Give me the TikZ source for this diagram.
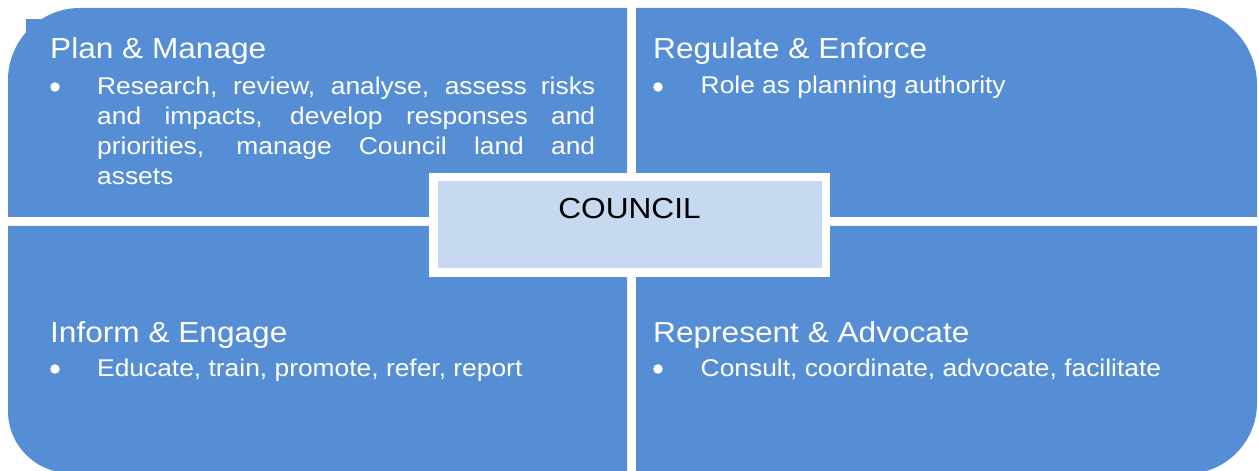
\documentclass[tikz,border=0pt]{standalone}
\usepackage{fontspec}
\setmainfont[FakeStretch=1.09]{Liberation Sans}
\definecolor{quadblue}{HTML}{558ED5}
\definecolor{councilfill}{HTML}{C6D9F1}
\begin{document}
\begin{tikzpicture}[x=1pt,y=1pt,
  quad/.style={fill=quadblue},
  quadtitle/.style={anchor=base west, inner sep=0pt, text=white, font=\fontsize{29}{34}\selectfont},
  bodytext/.style={anchor=base west, inner sep=0pt, text=white, font=\fontsize{24.2}{30}\selectfont},
  bulletdot/.style={circle, fill=white, inner sep=0pt, minimum size=9.5pt},
  councilbox/.style={draw=white, line width=8.5pt, fill=councilfill, minimum width=392.5pt,
    minimum height=95.5pt, inner sep=0pt, text height=20pt, text depth=32pt,
    font=\fontsize{29}{34}\selectfont}]
\clip (0,0) rectangle (1259,471);
% quadrants
\fill[quad] (627,254) -- (8,254) -- (8,391) arc[start angle=180,end angle=90,radius=72pt] -- (627,463) -- cycle;
\fill[quad] (26,411) rectangle (60,452);
\fill[quad] (636,254) -- (636,463) -- (1180,463) arc[start angle=90,end angle=0,radius=77pt] -- (1257,254) -- cycle;
\fill[quad] (627,245) -- (8,245) -- (8,60) arc[start angle=180,end angle=270,radius=62pt] -- (627,-2) -- cycle;
\fill[quad] (636,245) -- (636,-3) -- (1186,-3) arc[start angle=270,end angle=360,radius=71pt] -- (1257,245) -- cycle;
% Plan & Manage
\node[quadtitle] (t1) at (50,412) {Plan \& Manage};
\node[bulletdot] (b1) at (55,384) {};
\node[bodytext, text width=498pt, align=justify] (x1) at (97,376)
  {Research, review, analyse, assess risks\linebreak and impacts, develop responses and\linebreak priorities, manage Council land and\linebreak assets};
% Regulate & Enforce
\node[quadtitle] (t2) at (653,412) {Regulate \& Enforce};
\node[bulletdot] (b2) at (658,384) {};
\node[bodytext] (x2) at (700.5,377) {Role as planning authority};
% Inform & Engage
\node[quadtitle] (t3) at (50,128) {Inform \& Engage};
\node[bulletdot] (b3) at (55,102) {};
\node[bodytext] (x3) at (97,94) {Educate, train, promote, refer, report};
% Represent & Advocate
\node[quadtitle] (t4) at (653,128) {Represent \& Advocate};
\node[bulletdot] (b4) at (658,102) {};
\node[bodytext] (x4) at (700.5,94) {Consult, coordinate, advocate, facilitate};
% centre
\node[councilbox] (council) at (629.5,246) {COUNCIL};
\end{tikzpicture}
\end{document}
